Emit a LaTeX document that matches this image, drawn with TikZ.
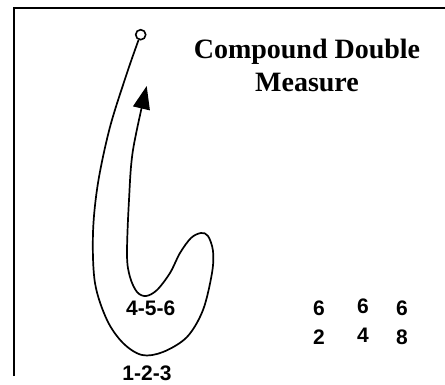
\documentclass[tikz,border=0pt]{standalone}
\usepackage{fontspec}
\setmainfont{Liberation Serif}
\setsansfont{Liberation Sans}
\usetikzlibrary{arrows.meta}
\tikzset{
  beat/.style={font=\sffamily\bfseries\fontsize{21}{24}\selectfont, inner sep=0pt},
  meter/.style={font=\sffamily\bfseries\fontsize{21}{24}\selectfont, inner sep=0pt},
  stroke/.style={line width=1.7pt, line join=round}
}

\begin{document}
\begin{tikzpicture}[x=1pt, y=-1pt]
\useasboundingbox (0,0) rectangle (445,385);

% ================= MARCO =================
\draw[line width=1.2pt] (14,376) -- (14,8) -- (445,8);

% ================= TITULO =================
\node[font=\rmfamily\bfseries\fontsize{28}{33}\selectfont, align=center, inner sep=0pt]
    (title) at (307,65) {Compound Double\\Measure};

% ================= FIGURA DEL GESTO =================
\node[circle, draw, line width=1.6pt, minimum size=10pt, inner sep=0pt] (start) at (140.7,34.7) {};
\coordinate (tip) at (146.7,86);
% trazo exterior, lazo y subida final
\draw[stroke, -{Triangle[length=23pt, width=17pt]}] plot[smooth, tension=0.55] coordinates {
    (start.-112) (127,73) (110,127) (98,183) (93,233) (95,283) (107,320) (123,343)
    (142,355) (163,352) (187,337) (203,310) (212,273) (213,251) (208,236) (201,233)
    (191,238) (180,253) (170,273) (157,290) (146,296) (137,292) (130,277) (127,255)
    (129,200) (133,150) (tip)};

% tiempos
\node[beat] (inner) at (150.7,308) {4-5-6};
\node[beat] (outer) at (147,373) {1-2-3};

% ================= COMPASES =================
\foreach \x/\yy/\up/\down [count=\i] in {319/308/6/2, 363/306/6/4, 402/308/6/8} {
  \node[meter] (up-\i) at (\x,\yy) {\up};
  \node[meter] (down-\i) at (\x,\yy+29) {\down};
}

\end{tikzpicture}
\end{document}
